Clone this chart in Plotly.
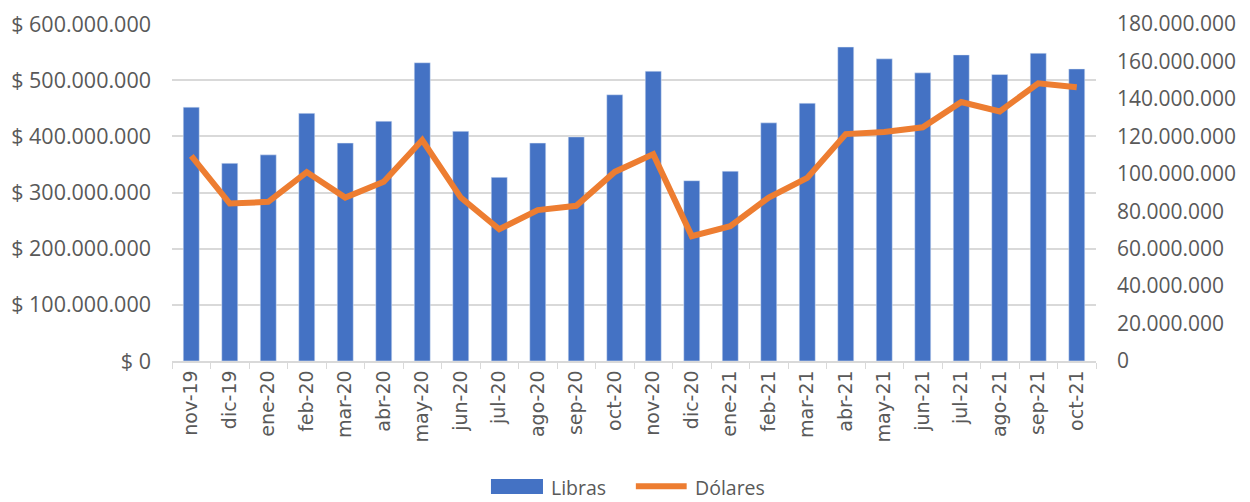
import plotly.graph_objects as go

months = ["nov-19","dic-19","ene-20","feb-20","mar-20","abr-20","may-20","jun-20","jul-20","ago-20","sep-20","oct-20",
          "nov-20","dic-20","ene-21","feb-21","mar-21","abr-21","may-21","jun-21","jul-21","ago-21","sep-21","oct-21"]
libras = [452e6, 352e6, 367e6, 441e6, 388e6, 427e6, 531e6, 409e6, 327e6, 388e6, 399e6, 474e6,
          516e6, 321e6, 338e6, 424e6, 459e6, 559e6, 538e6, 513e6, 545e6, 510e6, 548e6, 520e6]
dolares = [109.6e6, 84.1e6, 85.0e6, 100.9e6, 87.3e6, 95.7e6, 118.0e6, 87.3e6, 70.4e6, 80.6e6, 82.9e6, 101.0e6,
           110.5e6, 66.7e6, 72.0e6, 87.3e6, 97.8e6, 121.2e6, 122.3e6, 124.8e6, 138.3e6, 133.3e6, 148.3e6, 146.2e6]

left_ticks = [0, 100e6, 200e6, 300e6, 400e6, 500e6, 600e6]
right_ticks = [0, 20e6, 40e6, 60e6, 80e6, 100e6, 120e6, 140e6, 160e6, 180e6]

def fmt(v):
    return f"{int(v):,}".replace(",", ".")

left_text = ["$ " + fmt(v) for v in left_ticks]
right_text = [fmt(v) for v in right_ticks]

font_family = "Open Sans"
tick_color = "#595959"
grid_color = "#D9D9D9"
blue = "#4472C4"
orange = "#ED7D31"

fig = go.Figure()
fig.add_trace(go.Bar(x=months, y=libras, name="Libras", marker_color=blue, yaxis="y", showlegend=False))
fig.add_trace(go.Scatter(x=months, y=dolares, name="Dólares", mode="lines",
                         line=dict(color=orange, width=6), yaxis="y2", showlegend=False))

# custom legend (Excel-style wide swatches)
fig.add_shape(type="rect", xref="paper", yref="paper", x0=0.3452, x1=0.4015, y0=-0.395, y1=-0.350,
              fillcolor=blue, line=dict(width=0))
fig.add_shape(type="line", xref="paper", yref="paper", x0=0.502, x1=0.557, y0=-0.372, y1=-0.372,
              line=dict(color=orange, width=6))
fig.add_annotation(text="Libras", xref="paper", yref="paper", x=0.408, y=-0.374, xanchor="left",
                   yanchor="middle", showarrow=False, font=dict(family=font_family, size=19.5, color=tick_color))
fig.add_annotation(text="Dólares", xref="paper", yref="paper", x=0.564, y=-0.374, xanchor="left",
                   yanchor="middle", showarrow=False, font=dict(family=font_family, size=19.5, color=tick_color))

fig.update_layout(
    width=1242, height=494,
    margin=dict(l=164, r=154, t=16, b=141, autoexpand=False),
    paper_bgcolor="white", plot_bgcolor="white",
    bargap=0.584,
    font=dict(family=font_family, size=17, color=tick_color),
    xaxis=dict(type="category", tickangle=-90, showgrid=False,
               showline=True, linecolor=grid_color, linewidth=1.5,
               ticks="outside", tickson="boundaries", ticklen=6, tickcolor=grid_color,
               tickfont=dict(family="DejaVu Sans", size=19, color=tick_color), automargin=False),
    yaxis=dict(range=[0, 600e6], tickvals=left_ticks, ticktext=left_text,
               showgrid=True, gridcolor=grid_color, gridwidth=1.5, zeroline=False,
               showline=False, ticks="", tickfont=dict(size=21.5, color=tick_color),
               ticklabelstandoff=20, automargin=False),
    yaxis2=dict(range=[0, 180e6], tickvals=right_ticks, ticktext=right_text,
                overlaying="y", side="right", showgrid=False, zeroline=False,
                showline=False, ticks="", tickfont=dict(size=21, color=tick_color),
                ticklabelstandoff=20, automargin=False),
)

fig.write_html("out.html")
